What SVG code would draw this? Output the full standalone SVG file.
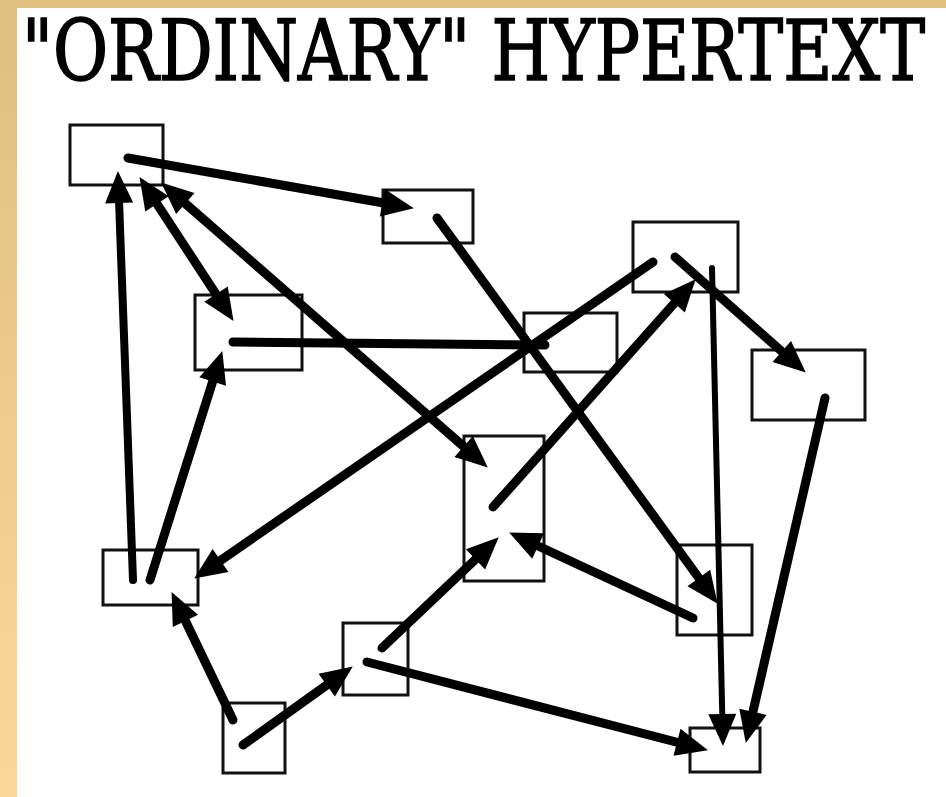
<svg xmlns="http://www.w3.org/2000/svg" width="946" height="797" viewBox="0 0 946 797">
  <defs>
    <linearGradient id="tan" x1="0" y1="0" x2="0" y2="1">
      <stop offset="0" stop-color="#DFC07E"/>
      <stop offset="1" stop-color="#FCD898"/>
    </linearGradient>
    <marker id="ah" markerUnits="userSpaceOnUse" markerWidth="44" markerHeight="44" viewBox="-4 -20 44 40" refX="19" refY="0" orient="auto-start-reverse">
      <path d="M0,-14 L32,0 L0,14 Z" fill="#000"/>
    </marker>
    <style>
      .box { fill: none; stroke: #111; stroke-width: 3; }
      .ln { fill: none; stroke: #000; stroke-width: 9; stroke-linecap: round; }
      .thin { stroke-width: 6; }
      .title { font-family: "DejaVu Serif Condensed", "DejaVu Serif", "Liberation Serif", serif; font-size: 84px; fill: #000; stroke: #000; stroke-width: 1.6; }
    </style>
  </defs>
  <rect x="0" y="0" width="946" height="797" fill="#fff"/>
  <rect x="0" y="0" width="946" height="8" fill="#DFC07E"/>
  <rect x="0" y="0" width="17" height="797" fill="url(#tan)"/>

  <g id="title">
    <text class="title" x="22" y="80" textLength="903" lengthAdjust="spacingAndGlyphs" xml:space="preserve">"ORDINARY" HYPERTEXT</text>
  </g>

  <g id="nodes">
    <g id="nA"><rect class="box" x="70" y="125" width="93" height="60"/></g>
    <g id="nB"><rect class="box" x="383" y="190" width="90" height="53"/></g>
    <g id="nC"><rect class="box" x="195" y="295" width="107" height="75"/></g>
    <g id="nD"><rect class="box" x="633" y="222" width="105" height="70"/></g>
    <g id="nE"><rect class="box" x="524" y="313" width="93" height="59"/></g>
    <g id="nF"><rect class="box" x="752" y="350" width="113" height="70"/></g>
    <g id="nG"><rect class="box" x="103" y="550" width="95" height="55"/></g>
    <g id="nJ"><rect class="box" x="464" y="436" width="80" height="145"/></g>
    <g id="nK"><rect class="box" x="677" y="545" width="75" height="90"/></g>
    <g id="nI"><rect class="box" x="343" y="623" width="65" height="72"/></g>
    <g id="nH"><rect class="box" x="223" y="703" width="62" height="70"/></g>
    <g id="nL"><rect class="box" x="690" y="728" width="70" height="44"/></g>
  </g>

  <g id="connectors">
    <line class="ln" x1="128" y1="158" x2="401" y2="206" marker-end="url(#ah)"/>
    <line class="ln" x1="133" y1="580" x2="118.4" y2="184" marker-end="url(#ah)" style="stroke-width:8"/>
    <line class="ln" x1="150" y1="580" x2="218.4" y2="363.4" marker-end="url(#ah)"/>
    <line class="ln" x1="146.6" y1="188" x2="226.4" y2="310" marker-start="url(#ah)" marker-end="url(#ah)"/>
    <line class="ln" x1="171" y1="191" x2="478" y2="459" marker-start="url(#ah)" marker-end="url(#ah)"/>
    <line class="ln" x1="233" y1="342" x2="545" y2="345"/>
    <line class="ln" x1="437" y1="218" x2="710" y2="593.3" marker-end="url(#ah)"/>
    <line class="ln" x1="653" y1="262" x2="204.9" y2="571.2" marker-end="url(#ah)"/>
    <line class="ln" x1="493" y1="507" x2="687" y2="289" marker-end="url(#ah)"/>
    <line class="ln" x1="675" y1="257" x2="796" y2="364" marker-end="url(#ah)"/>
    <line class="ln thin" x1="712" y1="268" x2="722.7" y2="733" marker-end="url(#ah)"/>
    <line class="ln" x1="825" y1="398" x2="748.7" y2="730.3" marker-end="url(#ah)"/>
    <line class="ln" x1="693" y1="618" x2="520.9" y2="538" marker-end="url(#ah)"/>
    <line class="ln" x1="382" y1="648" x2="489.3" y2="546.3" marker-end="url(#ah)"/>
    <line class="ln" x1="243" y1="745" x2="342.2" y2="674" marker-end="url(#ah)"/>
    <line class="ln" x1="233" y1="720" x2="177.2" y2="603.8" marker-end="url(#ah)"/>
    <line class="ln" x1="367" y1="662" x2="695.4" y2="747" marker-end="url(#ah)"/>
  </g>
</svg>
